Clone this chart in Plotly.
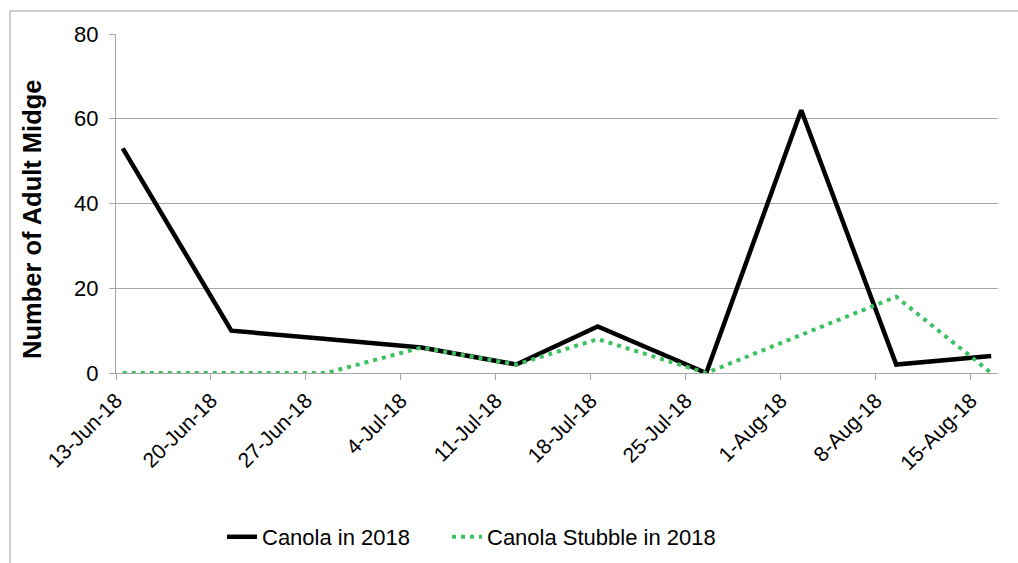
import plotly.graph_objects as go
import pandas as pd

# ---- data ----
sample_dates = ["2018-06-13", "2018-06-21", "2018-06-28", "2018-07-05", "2018-07-12",
                "2018-07-18", "2018-07-26", "2018-08-02", "2018-08-09", "2018-08-16"]
canola_2018 = [53, 10, 8, 6, 2, 11, 0, 62, 2, 4]
stubble_2018 = [0, 0, 0, 6, 2, 8, 0, 9, 18, 0]
tick_dates = ["2018-06-13", "2018-06-20", "2018-06-27", "2018-07-04", "2018-07-11",
              "2018-07-18", "2018-07-25", "2018-08-01", "2018-08-08", "2018-08-15"]
tick_labels = ["13-Jun-18", "20-Jun-18", "27-Jun-18", "4-Jul-18", "11-Jul-18",
               "18-Jul-18", "25-Jul-18", "1-Aug-18", "8-Aug-18", "15-Aug-18"]
series_names = ["Canola in 2018", "Canola Stubble in 2018"]

# points sit in the middle of each day (Excel date axis)
x_pts = [pd.Timestamp(d) + pd.Timedelta(hours=12) for d in sample_dates]

FONT = "Liberation Sans, Arial, sans-serif"
GRID = "#A6A6A6"

fig = go.Figure()
fig.add_trace(go.Scatter(x=x_pts, y=canola_2018, mode="lines", name=series_names[0],
                         line=dict(color="black", width=4.5), legend="legend"))
fig.add_trace(go.Scatter(x=x_pts, y=stubble_2018, mode="lines", name=series_names[1],
                         line=dict(color="#3CC160", width=4, dash="4px,5px"),
                         legend="legend2"))

leg_common = dict(orientation="h", xref="container", yref="container",
                  xanchor="left", y=1 - 537 / 563, yanchor="middle",
                  font=dict(size=22, family=FONT), bgcolor="rgba(0,0,0,0)")

fig.update_layout(
    width=1018, height=563,
    margin=dict(l=116, r=20, t=34, b=190),
    paper_bgcolor="white", plot_bgcolor="white",
    font=dict(family=FONT, color="black"),
    showlegend=True,
    legend=dict(x=222 / 1018, **leg_common),
    legend2=dict(x=447 / 1018, **leg_common),
    shapes=[dict(type="rect", xref="paper", yref="paper",
                 x0=(10 - 116) / 882, x1=1.05, y0=-1, y1=(373 - 11) / 339,
                 line=dict(color="#9A9A9A", width=1), layer="below")],
    annotations=[dict(text="<b>Number of Adult Midge</b>", textangle=-90,
                      xref="paper", yref="paper",
                      x=(32 - 116) / 882, y=(373 - 219) / 339,
                      xanchor="center", yanchor="middle", showarrow=False,
                      font=dict(size=25.5, family=FONT, color="black"))],
)

fig.update_xaxes(
    type="date",
    range=[pd.Timestamp("2018-06-13"), pd.Timestamp("2018-08-17")],
    tickmode="array", tickvals=[pd.Timestamp(d) for d in tick_dates], ticktext=tick_labels,
    tickangle=-45, tickfont=dict(size=21, family=FONT, color="black"),
    ticks="outside", ticklen=6, tickcolor=GRID,
    showline=True, linecolor=GRID, linewidth=1,
    showgrid=False, zeroline=False,
)
fig.update_yaxes(
    range=[0, 80], dtick=20, tickmode="linear", tick0=0,
    tickfont=dict(size=22, family=FONT, color="black"),
    ticks="outside", ticklen=6, tickcolor=GRID, ticklabelstandoff=6,
    showline=True, linecolor=GRID, linewidth=1,
    showgrid=True, gridcolor=GRID, gridwidth=1, zeroline=False,
)

fig.write_html("out.html")
